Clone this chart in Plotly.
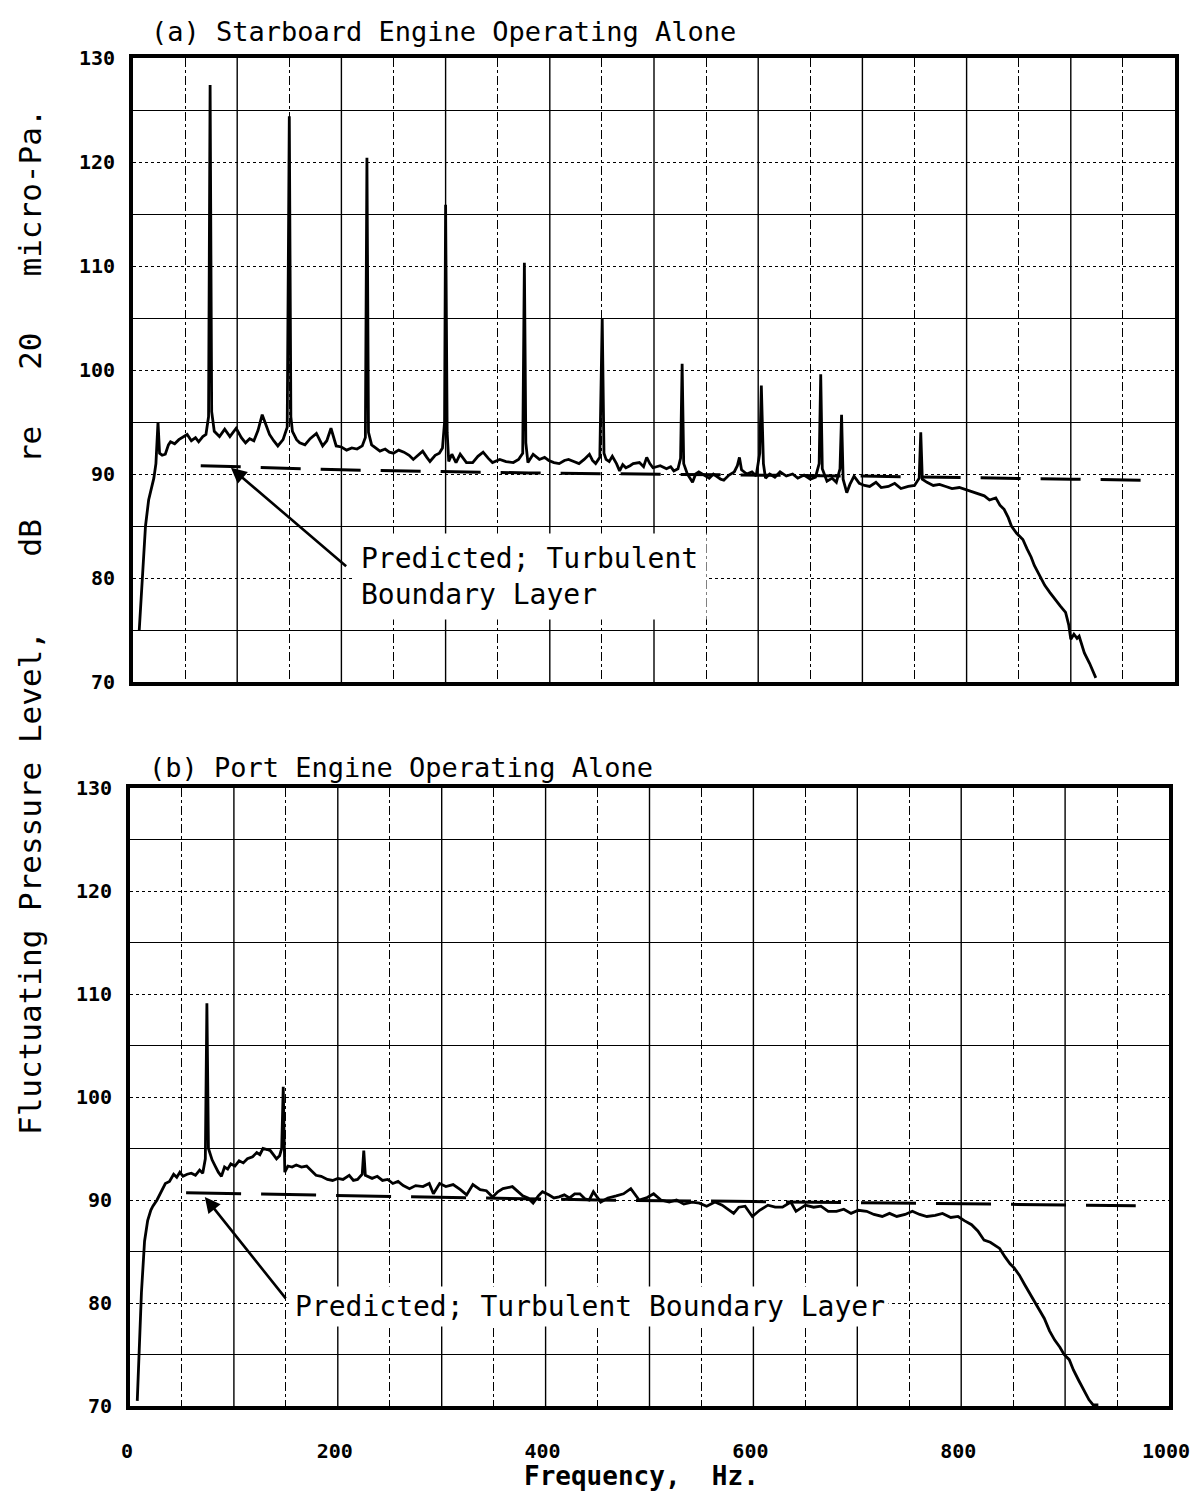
import plotly.graph_objects as go

# ---------------- data ----------------
# Panel (a): Starboard engine operating alone (frequency Hz, level dB)
freq_a = [6, 9, 12, 15, 18, 20, 22, 24, 25.5, 28, 31, 34, 36, 40, 44, 47, 52, 56, 60, 63, 67, 70, 72.5, 74, 75.5,
          78, 83, 88, 93, 99, 104, 108, 112, 116, 120, 124, 128, 131, 135, 139, 144, 148, 150, 151.5, 153, 157, 160,
          165, 170, 176, 182, 186, 190, 195, 200, 205, 210, 215, 220, 223, 224.5, 226, 229, 233, 237, 242, 246, 250,
          255, 260, 265, 269, 274, 278, 282, 285, 290, 294, 297, 299, 300, 301.5, 303, 306, 310, 314, 320, 326, 331,
          336, 341, 345, 352, 358, 365, 370, 374, 375.6, 377, 379, 384, 390, 395, 399, 404, 409, 414, 418, 423, 428,
          433, 438, 441, 444, 448, 450.3, 452, 454, 457, 460, 464, 467, 470, 473, 477, 480, 486, 490, 493, 496, 499,
          503, 506, 512, 516, 519, 523, 525.5, 527, 528.5, 532, 537, 540, 543, 548, 553, 557, 560, 564, 567, 572, 577,
          580, 582, 584, 589, 594, 598, 601.5, 603, 605, 607, 611, 616, 621, 627, 633, 638, 644, 650, 655, 658.5, 660,
          661.5, 666, 671, 675, 678.5, 680, 681.5, 685, 688, 692, 697, 702, 707, 713, 718, 725, 731, 737, 744, 750,
          754.5, 756, 757.5, 762, 768, 774, 780, 786, 793, 799, 805, 811, 817, 822, 828, 832, 836, 840, 843, 848, 854,
          858, 862, 865, 870, 875, 880, 885, 890, 895, 898, 900, 903, 906, 908, 913, 918, 924]
level_a = [75.0, 80.5, 85.0, 87.5, 88.7, 89.6, 91.0, 95.0, 92.0, 91.8, 91.9, 92.8, 93.1, 92.9, 93.3, 93.5, 93.8, 93.2,
           93.5, 93.1, 93.6, 93.8, 95.5, 127.4, 96.0, 94.1, 93.6, 94.3, 93.6, 94.4, 93.5, 93.0, 93.4, 93.2, 94.2, 95.7,
           94.5, 93.8, 93.2, 92.7, 93.3, 94.5, 124.4, 95.5, 94.1, 93.3, 93.0, 92.8, 93.4, 93.9, 92.7, 93.2, 94.4, 92.7,
           92.6, 92.3, 92.5, 92.4, 92.7, 93.5, 120.4, 94.0, 92.8, 92.5, 92.2, 92.4, 92.1, 92.0, 92.3, 92.1, 91.8, 91.4,
           91.9, 92.2, 91.6, 91.2, 91.8, 92.0, 92.5, 95.0, 115.9, 94.0, 91.2, 91.9, 91.1, 91.9, 91.1, 91.1, 91.7, 92.1,
           91.5, 91.1, 91.4, 91.2, 91.1, 91.4, 92.0, 110.3, 93.0, 91.1, 91.9, 91.4, 91.6, 91.3, 91.1, 91.0, 91.3, 91.4,
           91.2, 91.0, 91.4, 91.9, 91.3, 91.0, 91.6, 105.0, 92.0, 91.4, 91.2, 91.7, 91.0, 90.3, 90.9, 90.6, 90.8, 91.0,
           91.1, 90.7, 91.6, 91.0, 90.6, 90.7, 90.8, 90.5, 90.7, 90.3, 90.5, 91.5, 100.6, 91.0, 90.0, 89.2, 90.0, 90.2,
           89.9, 89.6, 90.0, 89.8, 89.5, 89.4, 89.9, 90.2, 90.8, 91.6, 90.4, 90.0, 90.2, 89.8, 92.0, 98.5, 91.0, 89.6,
           90.0, 89.7, 90.2, 89.8, 90.0, 89.6, 89.9, 89.5, 89.7, 91.0, 99.6, 90.5, 89.3, 89.6, 89.2, 90.5, 95.7, 89.5,
           88.2, 89.0, 89.8, 89.1, 88.9, 88.8, 89.2, 88.7, 88.8, 89.1, 88.6, 88.8, 88.9, 89.6, 94.0, 89.5, 89.2, 88.9,
           89.0, 88.8, 88.6, 88.7, 88.5, 88.3, 88.1, 87.9, 87.5, 87.7, 87.0, 86.6, 85.8, 85.0, 84.3, 83.7, 82.8, 82.0,
           81.2, 80.2, 79.3, 78.6, 77.9, 77.3, 76.7, 75.5, 74.1, 74.6, 74.2, 74.4, 72.8, 71.8, 70.4]

# Panel (b): Port engine operating alone
freq_b = [7, 9, 11, 14, 17, 20, 22, 26, 30, 34, 38, 42, 45, 48, 51, 55, 59, 63, 67, 70, 72.5, 74, 75.5, 77, 79, 82,
          85, 88, 91, 94, 97, 101, 105, 109, 113, 118, 122, 125, 128, 132, 135, 138, 141, 144, 146, 147.5, 149, 152,
          156, 160, 165, 170, 175, 179, 184, 190, 195, 200, 205, 211, 215, 219, 223.5, 225, 226.5, 229, 233, 238, 243,
          248, 253, 258, 263, 269, 275, 282, 288, 292, 298, 304, 311, 318, 324, 330, 337, 343, 349, 354, 359, 368,
          373, 378, 383, 388, 393, 397, 403, 408, 413, 418, 423, 428, 433, 438, 442, 446, 453, 460, 468, 475, 482,
          486, 490, 497, 504, 511, 519, 526, 533, 541, 548, 555, 563, 570, 576, 581, 586, 592, 599, 606, 614, 621,
          628, 636, 641, 645, 650, 658, 665, 672, 680, 687, 694, 701, 709, 716, 724, 731, 738, 746, 753, 760, 767,
          775, 782, 790, 797, 803, 810, 816, 822, 828, 833, 837, 842, 847, 851, 856, 861, 866, 870, 875, 880, 885,
          890, 895, 899, 904, 908, 913, 918, 923, 927, 932]
level_b = [70.5, 76.0, 81.0, 86.0, 88.0, 89.0, 89.4, 90.0, 90.8, 91.6, 91.8, 92.5, 92.2, 92.7, 92.3, 92.5, 92.6,
           92.4, 92.9, 92.6, 94.0, 109.1, 95.0, 94.5, 93.9, 93.3, 92.7, 92.3, 93.2, 93.0, 93.5, 93.3, 93.8, 93.6,
           94.0, 94.2, 94.6, 94.4, 95.0, 94.9, 94.8, 94.4, 94.0, 94.3, 95.0, 101.0, 92.7, 93.3, 93.2, 93.4, 93.2,
           93.3, 92.8, 92.4, 92.3, 92.0, 91.9, 92.1, 92.0, 92.4, 91.9, 92.0, 92.5, 94.8, 92.4, 92.3, 92.1, 92.3,
           91.9, 92.0, 91.6, 91.8, 91.4, 91.1, 91.4, 91.3, 91.6, 90.6, 91.6, 91.3, 91.5, 91.0, 90.5, 91.5, 91.0,
           90.9, 90.3, 90.8, 91.1, 91.3, 90.8, 90.4, 90.2, 89.7, 90.4, 90.8, 90.5, 90.2, 90.3, 90.5, 90.2, 90.6,
           90.6, 90.1, 90.0, 90.8, 89.8, 90.2, 90.4, 90.6, 91.1, 90.5, 90.0, 90.2, 90.6, 90.0, 89.8, 90.0, 89.6,
           89.8, 89.7, 89.4, 89.8, 89.5, 89.1, 88.7, 89.3, 89.4, 88.4, 89.0, 89.5, 89.3, 89.3, 89.8, 88.9, 89.2,
           89.5, 89.3, 89.4, 88.9, 88.9, 89.1, 88.7, 89.0, 88.9, 88.6, 88.4, 88.7, 88.4, 88.6, 88.9, 88.6, 88.4,
           88.5, 88.7, 88.3, 88.4, 88.0, 87.6, 87.0, 86.1, 85.9, 85.6, 85.3, 84.5, 83.8, 83.4, 82.7, 81.8, 80.9,
           80.2, 79.3, 78.5, 77.3, 76.4, 75.7, 75.0, 74.5, 73.5, 72.5, 71.5, 70.6, 70.1, 70.1]

# Predicted turbulent boundary layer levels
pred_freq_a = [65, 200, 380, 500, 700, 900, 975]
pred_level_a = [90.8, 90.4, 90.1, 90.0, 89.8, 89.5, 89.4]
pred_freq_b = [54, 300, 450, 600, 760, 840, 968]
pred_level_b = [90.7, 90.3, 90.0, 89.85, 89.7, 89.6, 89.45]

y_ticks = [70, 80, 90, 100, 110, 120, 130]
y_minor = [75, 85, 95, 105, 115, 125]
x_ticks = [0, 200, 400, 600, 800, 1000]
x_major_grid = [100, 200, 300, 400, 500, 600, 700, 800, 900]
x_minor_grid = [50, 150, 250, 350, 450, 550, 650, 750, 850, 950]

title_a = "(a) Starboard Engine Operating Alone"
title_b = "(b) Port Engine Operating Alone"
y_title = "Fluctuating Pressure Level,    dB   re   20   micro-Pa."
x_title = "Frequency,  Hz."
note_a = "Predicted; Turbulent<br>Boundary Layer"
note_b = "Predicted; Turbulent Boundary Layer"

# ---------------- figure ----------------
SANS = "DejaVu Sans"
MONO = "DejaVu Sans Mono"
W, H = 1197, 1500
L, T = 130, 58           # plot area left/top in page pixels
PW, PH = 1045, 1348      # plot area size
R, B = W - L - PW, H - T - PH


def fx(px):   # page x pixel -> paper x
    return (px - L) / PW


def fy(py):   # page y pixel -> paper y
    return (T + PH - py) / PH


fig = go.Figure()
fig.add_trace(go.Scatter(x=freq_a, y=level_a, mode="lines", line=dict(color="black", width=2.8),
                         xaxis="x", yaxis="y", showlegend=False, hoverinfo="skip"))
fig.add_trace(go.Scatter(x=pred_freq_a, y=pred_level_a, mode="lines",
                         line=dict(color="black", width=3, dash="40px,20px"),
                         xaxis="x", yaxis="y", showlegend=False, hoverinfo="skip"))
fig.add_trace(go.Scatter(x=freq_b, y=level_b, mode="lines", line=dict(color="black", width=2.8),
                         xaxis="x2", yaxis="y2", showlegend=False, hoverinfo="skip"))
fig.add_trace(go.Scatter(x=pred_freq_b, y=pred_level_b, mode="lines",
                         line=dict(color="black", width=3, dash="55px,20px"),
                         xaxis="x2", yaxis="y2", showlegend=False, hoverinfo="skip"))


def xaxis_cfg(dom, show_labels, anchor):
    return dict(
        domain=dom, range=[0, 1000], anchor=anchor, automargin=False,
        tickmode="array", tickvals=x_ticks if show_labels else x_major_grid,
        showticklabels=show_labels, ticks="",
        tickfont=dict(family=MONO, size=20, color="black", weight="bold"),
        ticklabelstandoff=24, ticklabelshift=-3, ticklabeloverflow="allow",
        showgrid=False,
        showline=True, linecolor="black", linewidth=4, mirror=True,
        minor=dict(tickmode="array", tickvals=x_minor_grid, showgrid=True, gridcolor="black",
                   gridwidth=1.3, griddash="dashdot", ticks=""),
        zeroline=False, fixedrange=True,
    )


def yaxis_cfg(dom, anchor):
    return dict(
        domain=dom, range=[70, 130], anchor=anchor, automargin=False,
        tickmode="array", tickvals=y_ticks, ticks="",
        tickfont=dict(family=MONO, size=20, color="black", weight="bold"),
        ticklabelstandoff=10,
        showgrid=True, gridcolor="black", gridwidth=1.3, griddash="dot",
        showline=True, linecolor="black", linewidth=4, mirror=True,
        minor=dict(tickmode="array", tickvals=y_minor, showgrid=True, gridcolor="black",
                   gridwidth=1.4, griddash="solid", ticks=""),
        zeroline=False, fixedrange=True,
    )


fig.update_layout(
    width=W, height=H,
    margin=dict(l=L, r=R, t=T, b=B, pad=0, autoexpand=False),
    paper_bgcolor="white", plot_bgcolor="white",
    font=dict(family=SANS, color="black"),
    xaxis=xaxis_cfg([fx(133), fx(1175)], False, "y"),
    yaxis=yaxis_cfg([fy(682), fy(58)], "x"),
    xaxis2=xaxis_cfg([fx(130), fx(1169)], True, "y2"),
    yaxis2=yaxis_cfg([fy(1406), fy(788)], "x2"),
)

# solid vertical grid lines at every 100 Hz
for xv in x_major_grid:
    for xr, yr in (("x", "y"), ("x2", "y2")):
        fig.add_shape(type="line", xref=xr, yref=yr, x0=xv, x1=xv, y0=70, y1=130,
                      line=dict(color="black", width=1.4), layer="below")

# Annotations: predicted lines
fig.add_annotation(xref="x", yref="y", x=210, y=80.1, xanchor="left", yanchor="middle",
                   text=note_a, showarrow=False, align="left", bgcolor="white",
                   font=dict(family=MONO, size=28, color="black"), borderpad=8)
fig.add_annotation(xref="x", yref="y", x=94, y=90.6, axref="x", ayref="y", ax=206, ay=81.0,
                   text="", showarrow=True, arrowhead=2, arrowsize=1.2, arrowwidth=2.6, arrowcolor="black")

fig.add_annotation(xref="x2", yref="y2", x=155, y=79.7, xanchor="left", yanchor="middle",
                   text=note_b, showarrow=False, align="left", bgcolor="white",
                   font=dict(family=MONO, size=28, color="black"), borderpad=3)
fig.add_annotation(xref="x2", yref="y2", x=72, y=90.3, axref="x2", ayref="y2", ax=151, ay=80.3,
                   text="", showarrow=True, arrowhead=2, arrowsize=1.2, arrowwidth=2.6, arrowcolor="black")

# Panel titles
fig.add_annotation(xref="paper", yref="paper", x=fx(149), y=fy(32),
                   xanchor="left", yanchor="middle", text=title_a, showarrow=False,
                   font=dict(family=MONO, size=27, color="black"))
fig.add_annotation(xref="paper", yref="paper", x=fx(147), y=fy(768),
                   xanchor="left", yanchor="middle", text=title_b, showarrow=False,
                   font=dict(family=MONO, size=27, color="black"))

# Axis titles
fig.add_annotation(xref="paper", yref="paper", x=fx(30), y=fy(622),
                   xanchor="center", yanchor="middle", text=y_title, showarrow=False, textangle=-90,
                   font=dict(family=MONO, size=31, color="black"))
fig.add_annotation(xref="paper", yref="paper", x=fx(641), y=fy(1476),
                   xanchor="center", yanchor="middle", text=x_title, showarrow=False,
                   font=dict(family=MONO, size=26, color="black", weight="bold"))

fig.write_html(
    "out.html",
    config={"displayModeBar": False},
    post_script="document.body.style.margin='0px';document.body.style.overflow='hidden';",
)
